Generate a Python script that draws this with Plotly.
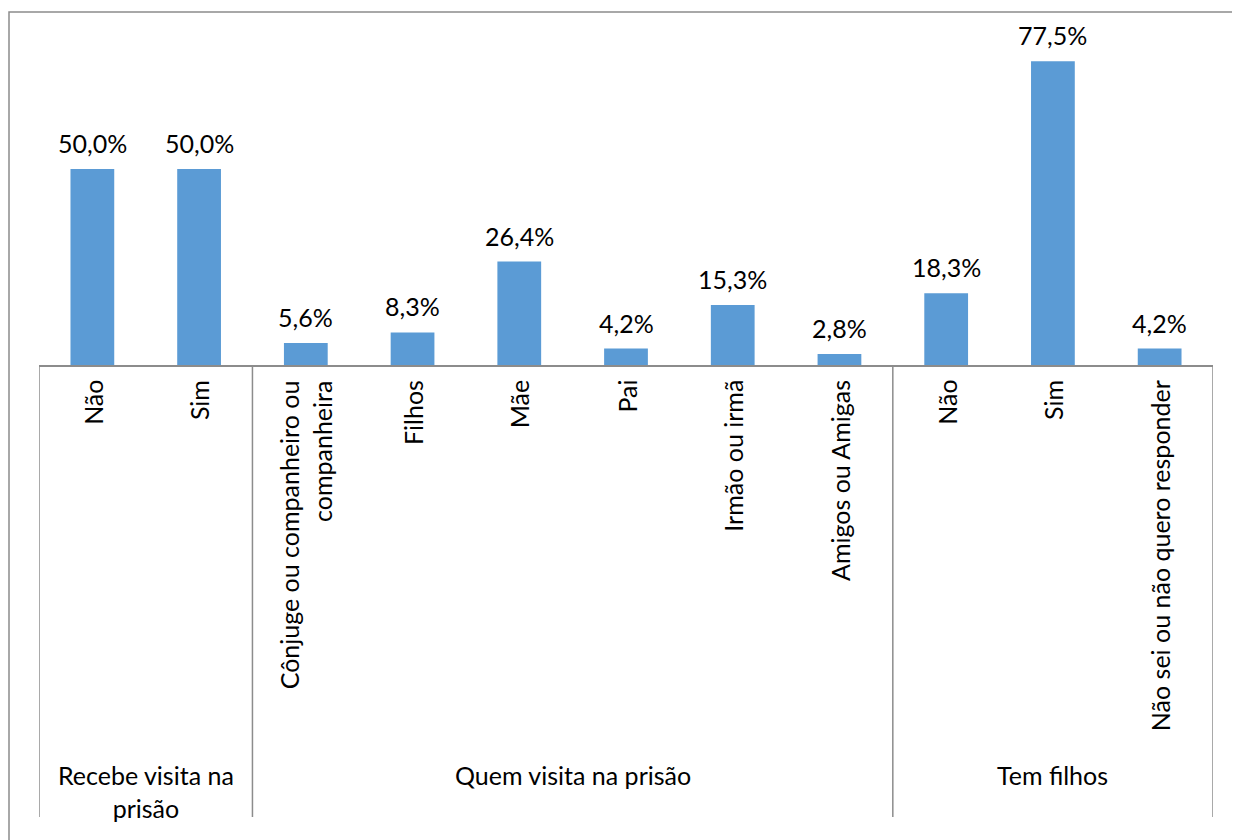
import plotly.graph_objects as go

# data
categories = ["Não", "Sim",
              "Cônjuge ou companheiro ou<br>companheira", "Filhos", "Mãe", "Pai",
              "Irmão ou irmã", "Amigos ou Amigas",
              "Não", "Sim", "Não sei ou não quero responder"]
values = [50.0, 50.0, 5.6, 8.3, 26.4, 4.2, 15.3, 2.8, 18.3, 77.5, 4.2]
groups = ["Recebe visita na<br>prisão", "Quem visita na prisão", "Tem filhos"]
group_sizes = [2, 6, 3]

# page body adds an 8px margin, so the figure is drawn 8px smaller
OFF = 8
W, H = 1240 - OFF, 840 - OFF
FONT = "Lato"
FS = 25
GRAY = "#8c8c8c"


def px(x):
    return (x - OFF) / W


def py(y):
    return 1 - (y - OFF) / H


xs = list(range(len(values)))

fig = go.Figure()
fig.add_trace(go.Bar(
    x=xs,
    y=values,
    width=0.41,
    marker=dict(color="#5B9BD5", line=dict(width=0)),
    hovertemplate="%{y:.1f}%<extra></extra>",
    showlegend=False,
))

annotations = []
# value labels above the bars
for i, v in enumerate(values):
    annotations.append(dict(
        x=i, y=v, xref="x", yref="y",
        text=f"{v:.1f}%".replace(".", ","), showarrow=False,
        xanchor="center", yanchor="bottom", yshift=9,
        font=dict(size=FS, family=FONT, color="black"),
    ))

# category labels, rotated
for i, lab in enumerate(categories):
    annotations.append(dict(
        x=i, xref="x", y=py(378), yref="paper",
        text=lab, textangle=-90, showarrow=False,
        xanchor="center", yanchor="top", align="right",
        font=dict(size=FS, family=FONT, color="black"),
    ))

# group labels and divider lines
shapes = []
start = -0.5
bounds = [start]
for g, n in zip(groups, group_sizes):
    end = start + n
    annotations.append(dict(
        x=(start + end) / 2, xref="x", y=py(758), yref="paper",
        text=g, showarrow=False, xanchor="center", yanchor="top",
        font=dict(size=FS, family=FONT, color="black"),
    ))
    bounds.append(end)
    start = end

for b in bounds:
    shapes.append(dict(type="line", xref="x", yref="paper",
                       x0=b, x1=b, y0=py(365), y1=py(817),
                       line=dict(color=GRAY, width=1.5)))

# outer chart frame (no bottom edge visible)
shapes.append(dict(type="path", xref="paper", yref="paper",
                   path=f"M {px(9)},{py(845)} L {px(9)},{py(12)} L {px(1237)},{py(12)} L {px(1237)},{py(845)}",
                   line=dict(color=GRAY, width=1.5)))

fig.update_layout(
    width=W, height=H,
    margin=dict(l=0, r=0, t=0, b=0),
    paper_bgcolor="white", plot_bgcolor="white",
    separators=",.",
    font=dict(family=FONT, size=FS, color="black"),
    xaxis=dict(domain=[px(39), px(1213)], range=[-0.5, 10.5],
               showticklabels=False, showgrid=False, zeroline=False,
               showline=True, linecolor=GRAY, linewidth=1.5, ticks=""),
    yaxis=dict(domain=[py(365), py(12)], range=[0, 90.05],
               visible=False, showgrid=False, zeroline=False),
    annotations=annotations,
    shapes=shapes,
)

fig.write_html("out.html")
